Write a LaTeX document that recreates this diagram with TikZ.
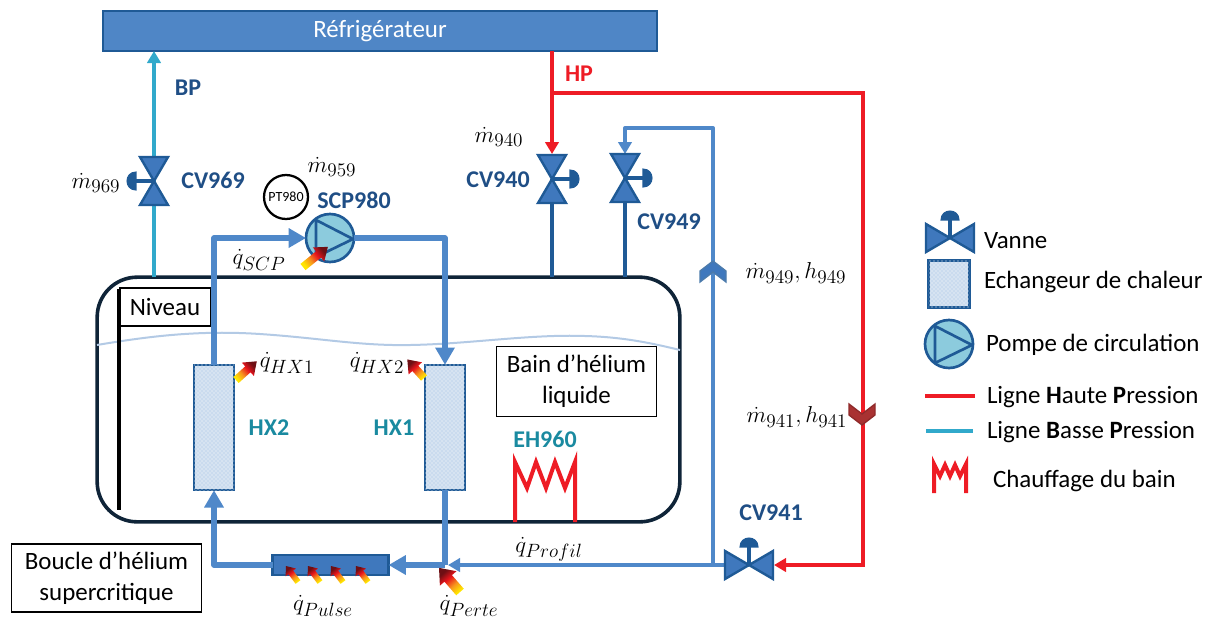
\documentclass[tikz,border=0pt]{standalone}
\usepackage[no-math]{fontspec}
\setmainfont{Carlito}
\usetikzlibrary{arrows.meta,patterns,calc}
\definecolor{fillblue}{HTML}{4F86C6}
\definecolor{edgeblue}{HTML}{1F5A96}
\definecolor{valveblue}{HTML}{3F78BD}
\definecolor{pipeblue}{HTML}{4F88C9}
\definecolor{navy}{HTML}{1F4E85}
\definecolor{cyanline}{HTML}{31A9CB}
\definecolor{hpred}{HTML}{EE1C25}
\definecolor{teal2}{HTML}{1A8AA0}
\definecolor{pumpfill}{HTML}{8CCBDD}
\definecolor{tankdark}{HTML}{0F2438}
\definecolor{wave}{HTML}{B3CAE5}
\definecolor{chevfill}{HTML}{A93232}
\definecolor{chevedge}{HTML}{8F2A2A}
\definecolor{heatA}{HTML}{FFE600}
\definecolor{heatB}{HTML}{F7941D}
\definecolor{heatC}{HTML}{E8141C}
\definecolor{heatD}{HTML}{6E0F14}
\pgfdeclarehorizontalshading{heat}{100bp}{color(0bp)=(heatA); color(27bp)=(heatA); color(42bp)=(heatB); color(58bp)=(heatC); color(73bp)=(heatD); color(100bp)=(heatD)}
\newcommand\heatarr[6]{\begin{scope}[shift={(#1)},rotate=#2]
\shade[shading=heat,shading angle=#2] (0,{-#4}) -- ({#3-#6},{-#4}) -- ({#3-#6},{-#5}) -- (#3,0) -- ({#3-#6},{#5}) -- ({#3-#6},{#4}) -- (0,{#4}) -- cycle;
\end{scope}}
\tikzset{
 x=0.75pt,y=-0.75pt,
 base/.style={inner sep=0pt,outer sep=0pt},
 tagn/.style={base,font=\fontsize{18pt}{21pt}\selectfont\bfseries,text=navy},
 tagt/.style={base,font=\fontsize{18pt}{21pt}\selectfont\bfseries,text=teal2},
 mth/.style={base,font=\fontsize{19pt}{22pt}\selectfont},
 leg/.style={base,anchor=west,font=\fontsize{18.7pt}{22pt}\selectfont},
 whitebox/.style={base,draw=black,line width=0.8pt,fill=white,align=center,font=\fontsize{18.7pt}{23pt}\selectfont},
 hx/.style={base,draw=edgeblue,line width=1.9pt,fill=fillblue!30,postaction={pattern=crosshatch dots,pattern color=white}},
 pump/.style={base,circle,draw=edgeblue,line width=2pt,fill=pumpfill},
 pipe/.style={pipeblue,line width=3.8pt},
 pipethin/.style={pipeblue,line width=3pt},
 bigtip/.style={-{Triangle[length=13pt,width=14pt]}},
 midtip/.style={-{Triangle[length=9pt,width=10pt]}},
 valve/.pic={
  \draw[edgeblue,line width=2.4pt] (0,0) -- (0,-18);
  \draw[edgeblue,fill=edgeblue,line width=0.8pt] (-9,-18) .. controls (-9,-30) and (9,-30) .. (9,-18) -- cycle;
  \draw[edgeblue,fill=valveblue,line width=1.8pt,line join=miter] (0,0) -- (-24,-14) -- (-24,14) -- cycle;
  \draw[edgeblue,fill=valveblue,line width=1.8pt,line join=miter] (0,0) -- (24,-14) -- (24,14) -- cycle;
 },
 chevblue/.pic={\draw[edgeblue!80!white,fill=valveblue,line width=1pt,line join=miter] (0,-11) -- (13,-1) -- (13,10) -- (0,0) -- (-13,10) -- (-13,-1) -- cycle;},
 chevred/.pic={\draw[chevedge,fill=chevfill,line width=1pt,line join=miter] (0,-11) -- (13,-1) -- (13,10) -- (0,0) -- (-13,10) -- (-13,-1) -- cycle;},
 pumptri/.pic={\draw[edgeblue,line width=2pt,line join=round] (-14,-18) -- (23,1) -- (-14,19) -- cycle;},
}
\begin{document}
\begin{tikzpicture}
\useasboundingbox (0,0) rectangle (1212,619);
% coordinates
\coordinate (cv969) at (154,181);
\coordinate (cv940) at (552,179);
\coordinate (cv949) at (625,178);
\coordinate (cv941) at (749,565);
\coordinate (hpj) at (552,93);
\coordinate (hpc) at (863,93);
\coordinate (hpd) at (863,565);
\coordinate (bya) at (713,565);
\coordinate (byb) at (713,128);
\coordinate (byc) at (625,128);
\coordinate (jn) at (445,565);
\coordinate (lc) at (214,565);
% tank and bath
\node[base,draw=tankdark,line width=2.7pt,rounded corners=30pt,minimum width=437pt,minimum height=183.5pt] (tank) at (388.5,399.5) {};
\draw[wave,line width=1.5pt] (97,345) .. controls (150,336) and (200,330) .. (260,334) .. controls (320,338) and (360,346) .. (410,345) .. controls (470,344) and (530,334) .. (585,336) .. controls (625,337) and (655,344) .. (680,350);
\node[whitebox,minimum width=68pt,minimum height=28.5pt] (niveau) at (165,307) {Niveau};
\node[base,fill=black,minimum width=2.6pt,minimum height=166pt] (level) at (119,399.5) {};
\node[whitebox,minimum width=120pt,minimum height=52pt] (bain) at (576.5,381.5) {Bain d’hélium\\liquide};
\node[whitebox,minimum width=143pt,minimum height=51pt] (boucle) at (106.5,578) {Boucle d’hélium\\supercritique};
% fridge
\node[base,draw=edgeblue,line width=1.6pt,fill=fillblue,text=white,minimum width=415pt,minimum height=30pt,font=\fontsize{18.7pt}{22pt}\selectfont] (fridge) at (380,31) {Réfrigérateur};
% exchangers, pump, pulse box
\node[hx,minimum width=30pt,minimum height=94pt] (hx2) at (214,427.5) {};
\node[hx,minimum width=30pt,minimum height=94pt] (hx1) at (445,427.5) {};
\node[pump,minimum size=36pt] (scp) at (330,238) {};
\node[base,circle,draw=black,line width=1.7pt,fill=white,minimum size=33pt,font=\fontsize{10.5pt}{12pt}\selectfont] (pt) at (286,197) {PT980};
\node[base,draw=edgeblue,line width=1.7pt,fill=valveblue,minimum width=87pt,minimum height=15.5pt] (pulse) at (330.5,565) {};
% BP, stems
\draw[cyanline,line width=3pt,midtip] (tank.north -| cv969) -- (cv969) -- (fridge.south -| cv969);
\draw[edgeblue,line width=3pt] (tank.north -| cv940) -- (cv940);
\draw[edgeblue,line width=3pt] (tank.north -| cv949) -- (cv949);
% HP
\draw[hpred,line width=3pt,midtip] (fridge.south -| cv940) -- ($(cv940)+(0,-25)$);
\draw[hpred,line width=3pt,line join=miter,midtip] (hpj) -- (hpc) -- (hpd) -- ($(cv941)+(25,0)$);
% circulation
\draw[pipe,bigtip,line join=round] (hx2.north) -- (hx2.north |- scp) -- (scp.west);
\draw[pipe,bigtip,line join=round] (scp.east) -- (scp.east -| hx1) -- (hx1.north);
\draw[pipe] (hx1.south) -- (jn);
\draw[pipe,bigtip] (jn) -- (pulse.east);
\draw[pipe,bigtip,line join=round] (pulse.west) -- (lc) -- (hx2.south);
\draw[pipethin,midtip] (cv941) -- ($(jn)+(3,0)$);
\draw[pipethin,line join=round,midtip] (bya) -- (byb) -- (byc) -- ($(cv949)+(0,-24)$);
% valves
\pic[rotate=90] at (cv969) {valve};
\pic[rotate=-90] at (cv940) {valve};
\pic[rotate=-90] at (cv949) {valve};
\pic at (cv941) {valve};
\pic at (713,272) {chevblue};
\pic[rotate=180] at (862,414) {chevred};
\pic at (scp) {pumptri};
% heater
\draw[hpred,line width=3pt,line join=miter] (515,522) -- (515,462) -- (527,488) -- (536,462) -- (546,488) -- (555,462) -- (565,488) -- (575,462) -- (575,522);
% heat arrows
\heatarr{303,267}{39}{32}{4}{9}{12}
\heatarr{236,380}{42}{28}{4}{9}{12}
\heatarr{424,378}{132}{25}{4}{9}{12}
\heatarr{460,592}{131}{32}{5}{11}{14}
\heatarr{298,582}{127}{20}{3}{6.5}{8}
\heatarr{320,582}{127}{20}{3}{6.5}{8}
\heatarr{343,582}{127}{20}{3}{6.5}{8}
\heatarr{368,582}{127}{20}{3}{6.5}{8}
% labels
\node[tagn] (tbp) at (188,88) {BP};
\node[tagn] (t969) at (213,180) {CV969};
\node[tagn] (t980) at (354,200) {SCP980};
\node[tagn] (t940) at (498,180) {CV940};
\node[tagn] (t949) at (669,222) {CV949};
\node[tagn] (t941) at (771,513) {CV941};
\node[base,font=\fontsize{18pt}{21pt}\selectfont\bfseries,text=hpred] (thp) at (579,74) {HP};
\node[tagt] (thx2) at (269,428) {HX2};
\node[tagt] (thx1) at (394,428) {HX1};
\node[tagt] (teh) at (545,439) {EH960};
\node[mth] (m969) at (96,183) {$\dot m_{969}$};
\node[mth] (m959) at (332,167) {$\dot m_{959}$};
\node[mth] (m940) at (499,137) {$\dot m_{940}$};
\node[mth] (m949) at (796,273) {$\dot m_{949},h_{949}$};
\node[mth] (m941) at (797,417) {$\dot m_{941},h_{941}$};
\node[mth] (qs) at (259,260) {$\dot q_{SCP}$};
\node[mth] (qh1) at (287,363) {$\dot q_{HX1}$};
\node[mth] (qh2) at (377,363) {$\dot q_{HX2}$};
\node[mth] (qpr) at (549,549) {$\dot q_{Profil}$};
\node[mth] (qpu) at (323,606) {$\dot q_{Pulse}$};
\node[mth] (qpe) at (469,606) {$\dot q_{Perte}$};
% legend
\pic at (950,238) {valve};
\node[leg] (lv) at (984,241) {Vanne};
\node[hx,minimum width=31pt,minimum height=35pt] (lhx) at (949,284) {};
\node[leg] (lh) at (984,282) {Echangeur de chaleur};
\node[pump,minimum size=36pt] (lp) at (949,344) {};
\pic at (lp) {pumptri};
\node[leg] (lpt) at (986,345) {Pompe de circulation};
\coordinate (lr1) at (925,396); \coordinate (lr2) at (975,396);
\draw[hpred,line width=3pt] (lr1) -- (lr2);
\node[leg] (lrt) at (987,397) {Ligne \textbf{H}aute \textbf{P}ression};
\coordinate (lb1) at (926,431); \coordinate (lb2) at (973,431);
\draw[cyanline,line width=3pt] (lb1) -- (lb2);
\node[leg] (lbt) at (987,432) {Ligne \textbf{B}asse \textbf{P}ression};
\draw[hpred,line width=3pt,line join=miter] (934,493) -- (934,464) -- (940,476) -- (945,465) -- (950,476) -- (955,465) -- (960,476) -- (966,464) -- (966,493);
\node[leg] (lct) at (993,481) {Chauffage du bain};
\end{tikzpicture}
\end{document}
